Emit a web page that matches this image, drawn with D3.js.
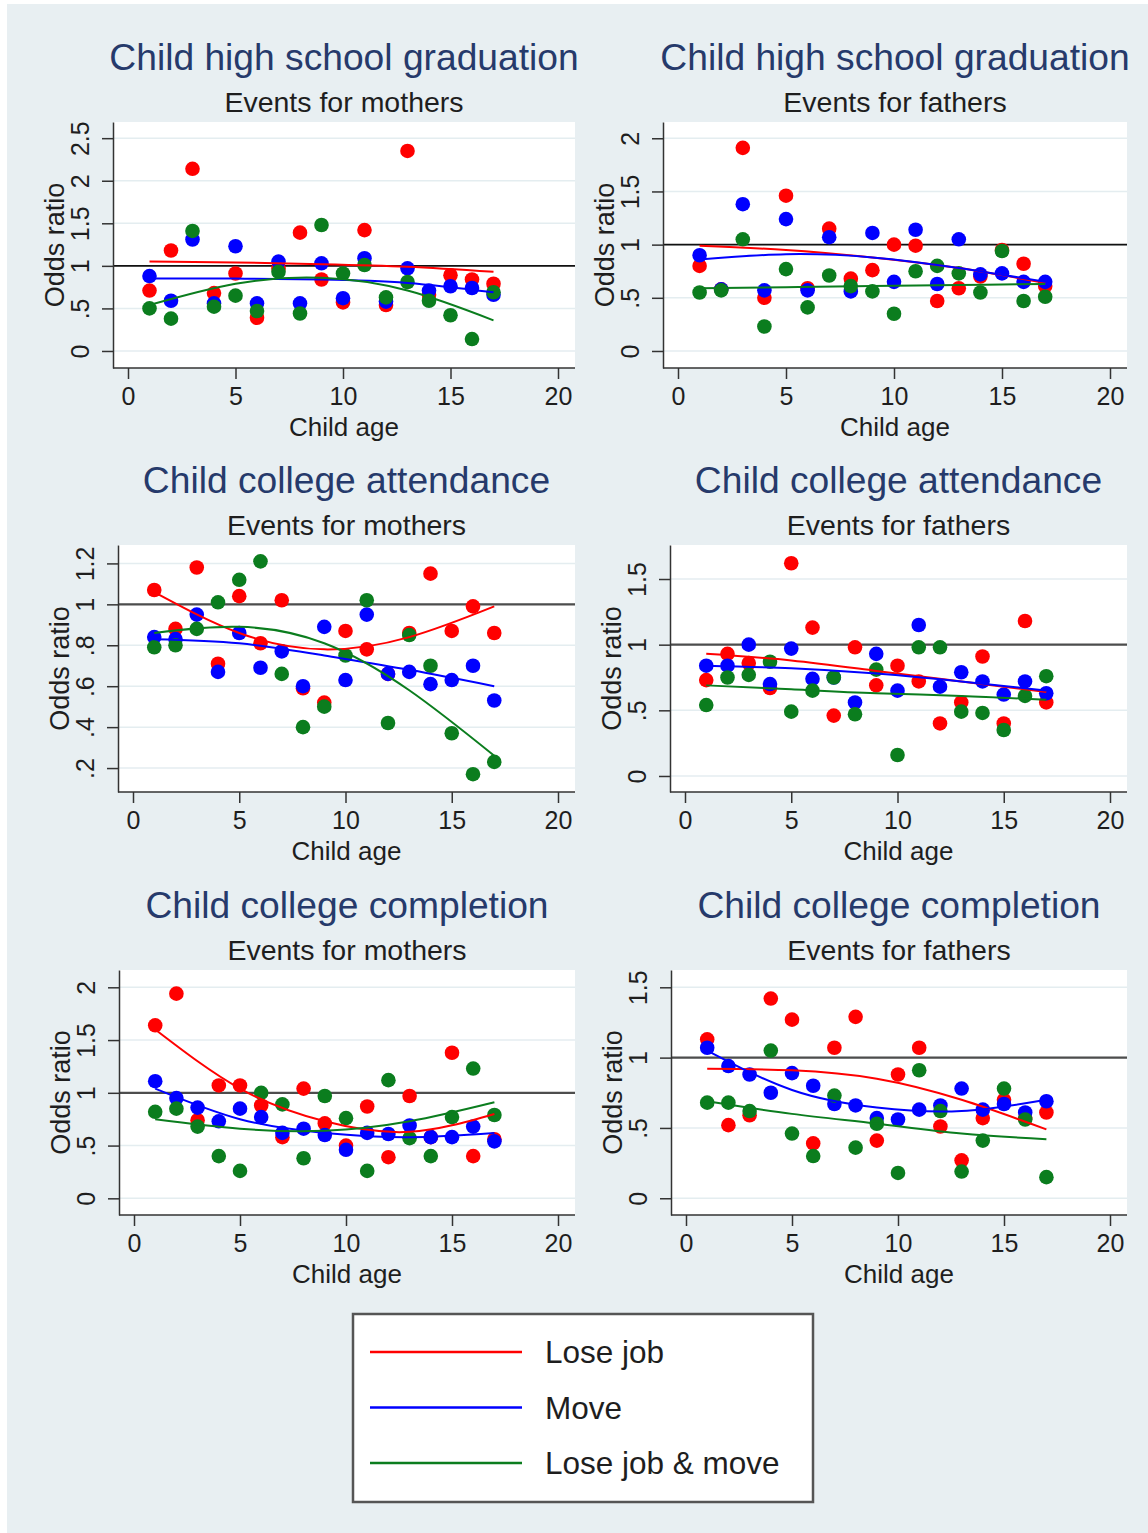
<!DOCTYPE html>
<html>
<head>
<meta charset="utf-8">
<script src="https://cdn.jsdelivr.net/npm/d3@7"></script>
<style>
  body { margin: 0; background: #fff; }
  svg { display: block; font-family: "Liberation Sans", Arial, Helvetica, sans-serif; }
</style>
</head>
<body>
<div id="chart"></div>
<script>
// ages at which the odds ratios were estimated
const ages = [1, 2, 3, 4, 5, 6, 7, 8, 9, 10, 11, 12, 13, 14, 15, 16, 17];
const fitAges = [1, 5, 9, 13, 17];

const seriesNames = ["Lose job", "Move", "Lose job & move"];
const seriesColors = ["#ff0000", "#0000ff", "#0b7d1e"];

const outcomeTitles = ["Child high school graduation", "Child college attendance", "Child college completion"];
const parentSubtitles = ["Events for mothers", "Events for fathers"];
const xTicks = [0, 5, 10, 15, 20];

// each panel: [lose job, move, lose job & move]
const hsMothers = [
  [0.71, 1.18, 2.14, 0.68, 0.91, 0.39, 0.97, 1.39, 0.84, 0.57, 1.42, 0.54, 2.35, 0.66, 0.89, 0.84, 0.79],
  [0.88, 0.59, 1.31, 0.56, 1.23, 0.56, 1.05, 0.56, 1.03, 0.62, 1.09, 0.58, 0.97, 0.71, 0.76, 0.74, 0.66],
  [0.50, 0.38, 1.41, 0.52, 0.65, 0.47, 0.93, 0.44, 1.48, 0.91, 1.01, 0.63, 0.81, 0.59, 0.42, 0.14, 0.69]
];
const hsFathers = [
  [0.80, 0.58, 1.91, 0.50, 1.46, 0.59, 1.15, 0.68, 0.76, 1.00, 0.99, 0.47, 0.59, 0.70, 0.95, 0.82, 0.61],
  [0.90, 0.58, 1.38, 0.57, 1.24, 0.57, 1.07, 0.56, 1.11, 0.65, 1.14, 0.63, 1.05, 0.72, 0.73, 0.65, 0.65],
  [0.55, 0.57, 1.05, 0.23, 0.77, 0.41, 0.71, 0.61, 0.56, 0.35, 0.75, 0.80, 0.73, 0.55, 0.94, 0.47, 0.51]
];
const attMothers = [
  [1.07, 0.88, 1.18, 0.71, 1.04, 0.81, 1.02, 0.59, 0.52, 0.87, 0.78, 0.66, 0.86, 1.15, 0.87, 0.99, 0.86],
  [0.84, 0.83, 0.95, 0.67, 0.86, 0.69, 0.77, 0.60, 0.89, 0.63, 0.95, 0.66, 0.67, 0.61, 0.63, 0.70, 0.53],
  [0.79, 0.80, 0.88, 1.01, 1.12, 1.21, 0.66, 0.40, 0.50, 0.75, 1.02, 0.42, 0.85, 0.70, 0.37, 0.17, 0.23]
];
const attFathers = [
  [0.73, 0.93, 0.86, 0.67, 1.62, 1.13, 0.46, 0.98, 0.69, 0.84, 0.72, 0.40, 0.56, 0.91, 0.40, 1.18, 0.56],
  [0.84, 0.84, 1.00, 0.70, 0.97, 0.74, 0.75, 0.56, 0.93, 0.65, 1.15, 0.68, 0.79, 0.72, 0.62, 0.72, 0.63],
  [0.54, 0.75, 0.77, 0.87, 0.49, 0.65, 0.75, 0.47, 0.81, 0.16, 0.98, 0.98, 0.49, 0.48, 0.35, 0.61, 0.76]
];
const compMothers = [
  [1.64, 1.94, 0.74, 1.07, 1.07, 0.88, 0.58, 1.04, 0.71, 0.50, 0.87, 0.39, 0.97, 0.58, 1.38, 0.40, 0.56],
  [1.11, 0.95, 0.86, 0.73, 0.85, 0.77, 0.62, 0.66, 0.60, 0.46, 0.62, 0.61, 0.69, 0.58, 0.58, 0.68, 0.54],
  [0.82, 0.85, 0.68, 0.40, 0.26, 1.00, 0.89, 0.38, 0.97, 0.76, 0.26, 1.12, 0.57, 0.40, 0.77, 1.23, 0.79]
];
const compFathers = [
  [1.13, 0.52, 0.59, 1.42, 1.27, 0.39, 1.07, 1.29, 0.41, 0.88, 1.07, 0.51, 0.27, 0.57, 0.70, 0.57, 0.61],
  [1.07, 0.94, 0.88, 0.75, 0.89, 0.80, 0.67, 0.66, 0.57, 0.56, 0.63, 0.66, 0.78, 0.63, 0.67, 0.61, 0.69],
  [0.68, 0.68, 0.62, 1.05, 0.46, 0.30, 0.73, 0.36, 0.53, 0.18, 0.91, 0.62, 0.19, 0.41, 0.78, 0.56, 0.15]
];

// fitted curves, read at fitAges
const hsMothersFit = [[1.05, 1.04, 1.02, 0.99, 0.93], [0.85, 0.85, 0.84, 0.80, 0.69], [0.54, 0.79, 0.86, 0.71, 0.36]];
const hsFathersFit = [[0.99, 0.95, 0.88, 0.78, 0.64], [0.86, 0.91, 0.88, 0.78, 0.65], [0.59, 0.60, 0.61, 0.62, 0.63]];
const attMothersFit = [[1.06, 0.86, 0.78, 0.84, 0.99], [0.83, 0.81, 0.75, 0.68, 0.60], [0.86, 0.89, 0.81, 0.58, 0.26]];
const attFathersFit = [[0.93, 0.88, 0.80, 0.72, 0.64], [0.84, 0.82, 0.78, 0.72, 0.65], [0.69, 0.66, 0.63, 0.61, 0.58]];
const compMothersFit = [[1.60, 1.04, 0.73, 0.63, 0.80], [1.04, 0.75, 0.62, 0.58, 0.62], [0.75, 0.66, 0.64, 0.73, 0.91]];
const compFathersFit = [[0.92, 0.91, 0.85, 0.70, 0.49], [1.05, 0.77, 0.645, 0.62, 0.70], [0.69, 0.60, 0.53, 0.46, 0.42]];

const yTicksHsMothers = [0, 0.5, 1, 1.5, 2, 2.5];
const yTicksHsFathers = [0, 0.5, 1, 1.5, 2];
const yTicksAttMothers = [0.2, 0.4, 0.6, 0.8, 1, 1.2];
const yTicksAttFathers = [0, 0.5, 1, 1.5];
const yTicksCompMothers = [0, 0.5, 1, 1.5, 2];
const yTicksCompFathers = [0, 0.5, 1, 1.5];

const W = 1148, H = 1533;

// layout of the six plot regions (pixels) and their y ranges
const panels = [
  { row: 0, col: 0, data: hsMothers, fit: hsMothersFit, yTicks: yTicksHsMothers,
    box: [113, 575, 122, 368], yDomain: [-0.2, 2.69] },
  { row: 0, col: 1, data: hsFathers, fit: hsFathersFit, yTicks: yTicksHsFathers,
    box: [663, 1127, 122, 368], yDomain: [-0.16, 2.153] },
  { row: 1, col: 0, data: attMothers, fit: attMothersFit, yTicks: yTicksAttMothers,
    box: [118, 575, 545, 792], yDomain: [0.083, 1.29] },
  { row: 1, col: 1, data: attFathers, fit: attFathersFit, yTicks: yTicksAttFathers,
    box: [670, 1127, 545, 792], yDomain: [-0.122, 1.759] },
  { row: 2, col: 0, data: compMothers, fit: compMothersFit, yTicks: yTicksCompMothers,
    box: [119, 575, 970, 1215], yDomain: [-0.158, 2.164] },
  { row: 2, col: 1, data: compFathers, fit: compFathersFit, yTicks: yTicksCompFathers,
    box: [671, 1127, 970, 1215], yDomain: [-0.119, 1.623] }
];

const bg = "#e8eff2";
const gridColor = "#e4edf0";
const titleColor = "#263a6b";
const textColor = "#1e1e1e";

const svg = d3.select("#chart").append("svg")
  .attr("width", W)
  .attr("height", H);

svg.append("rect")
  .attr("x", 7).attr("y", 4)
  .attr("width", W - 7).attr("height", H - 4)
  .attr("fill", bg);

const fmt = v => v === 0 ? "0" : String(v).replace(/^0\./, ".");

panels.forEach(p => {
  const [left, right, top, bottom] = p.box;
  const x = d3.scaleLinear().domain([0, 20]).range([left + 15, right - 17]);
  const y = d3.scaleLinear().domain(p.yDomain).range([bottom, top]);
  const g = svg.append("g");
  const cx = (left + right) / 2;

  // titles
  g.append("text")
    .attr("x", cx).attr("y", top - 52)
    .attr("text-anchor", "middle")
    .style("font-size", "37.2px")
    .style("fill", titleColor)
    .text(outcomeTitles[p.row]);
  g.append("text")
    .attr("x", cx).attr("y", top - 10)
    .attr("text-anchor", "middle")
    .style("font-size", "28.5px")
    .style("fill", textColor)
    .text(parentSubtitles[p.col]);

  // plot region
  g.append("rect")
    .attr("x", left).attr("y", top)
    .attr("width", right - left).attr("height", bottom - top)
    .attr("fill", "#fff");

  g.selectAll("line.grid")
    .data(p.yTicks)
    .enter()
    .append("line")
    .attr("class", "grid")
    .attr("x1", left).attr("x2", right)
    .attr("y1", d => y(d)).attr("y2", d => y(d))
    .attr("stroke", gridColor)
    .attr("stroke-width", 1.5);

  // reference line at odds ratio 1
  g.append("line")
    .attr("x1", left).attr("x2", right)
    .attr("y1", y(1)).attr("y2", y(1))
    .attr("stroke", p.row === 0 ? "#111" : "#4d4d4d")
    .attr("stroke-width", p.row === 0 ? 1.6 : 2.2);

  // axes
  const yAxis = g.append("g")
    .attr("transform", `translate(${left},0)`)
    .call(d3.axisLeft(y).tickValues(p.yTicks).tickFormat(fmt).tickSize(11).tickSizeOuter(0));
  yAxis.select(".domain").attr("stroke", "#333").attr("stroke-width", 1.5);
  yAxis.selectAll(".tick line").attr("stroke", "#333").attr("stroke-width", 1.5);
  yAxis.selectAll(".tick text")
    .attr("x", 0).attr("y", -24).attr("dy", null)
    .attr("transform", "rotate(-90)")
    .attr("text-anchor", "middle")
    .style("font-size", "25px")
    .style("font-family", "'Liberation Sans', Arial, sans-serif")
    .style("fill", textColor);

  const xAxis = g.append("g")
    .attr("transform", `translate(0,${bottom})`)
    .call(d3.axisBottom(x).tickValues(xTicks).tickSize(11).tickSizeOuter(0).tickPadding(8));
  xAxis.select(".domain").remove();
  xAxis.selectAll(".tick line").attr("stroke", "#333").attr("stroke-width", 1.5);
  xAxis.selectAll(".tick text")
    .style("font-size", "25px")
    .style("font-family", "'Liberation Sans', Arial, sans-serif")
    .style("fill", textColor);
  g.append("line")
    .attr("x1", left).attr("x2", right)
    .attr("y1", bottom).attr("y2", bottom)
    .attr("stroke", "#333").attr("stroke-width", 1.5);

  g.append("text")
    .attr("x", cx).attr("y", bottom + 68)
    .attr("text-anchor", "middle")
    .style("font-size", "26px")
    .style("fill", textColor)
    .text("Child age");

  g.append("text")
    .attr("transform", `translate(${left - 49},${(top + bottom) / 2}) rotate(-90)`)
    .attr("text-anchor", "middle")
    .style("font-size", "27px")
    .style("fill", textColor)
    .text("Odds ratio");

  // points
  p.data.forEach((vals, s) => {
    g.selectAll(null)
      .data(ages.map((a, i) => [a, vals[i]]))
      .enter()
      .append("circle")
      .attr("cx", d => x(d[0]))
      .attr("cy", d => y(d[1]))
      .attr("r", 7.3)
      .attr("fill", seriesColors[s]);
  });

  // fitted curves
  const line = d3.line()
    .x(d => x(d[0]))
    .y(d => y(d[1]))
    .curve(d3.curveNatural);
  p.fit.forEach((vals, s) => {
    g.append("path")
      .attr("d", line(fitAges.map((a, i) => [a, vals[i]])))
      .attr("fill", "none")
      .attr("stroke", seriesColors[s])
      .attr("stroke-width", 2);
  });
});

// legend
const legend = svg.append("g");
legend.append("rect")
  .attr("x", 353).attr("y", 1314)
  .attr("width", 460).attr("height", 188)
  .attr("fill", "#fff")
  .attr("stroke", "#555")
  .attr("stroke-width", 2.5);

const legendY = d3.scalePoint().domain(seriesNames).range([1352, 1463]);
seriesNames.forEach((name, s) => {
  legend.append("line")
    .attr("x1", 370).attr("x2", 522)
    .attr("y1", legendY(name)).attr("y2", legendY(name))
    .attr("stroke", seriesColors[s])
    .attr("stroke-width", 2.5);
  legend.append("text")
    .attr("x", 545).attr("y", legendY(name) + 11)
    .style("font-size", "31.5px")
    .style("fill", textColor)
    .text(name);
});
</script>
</body>
</html>
